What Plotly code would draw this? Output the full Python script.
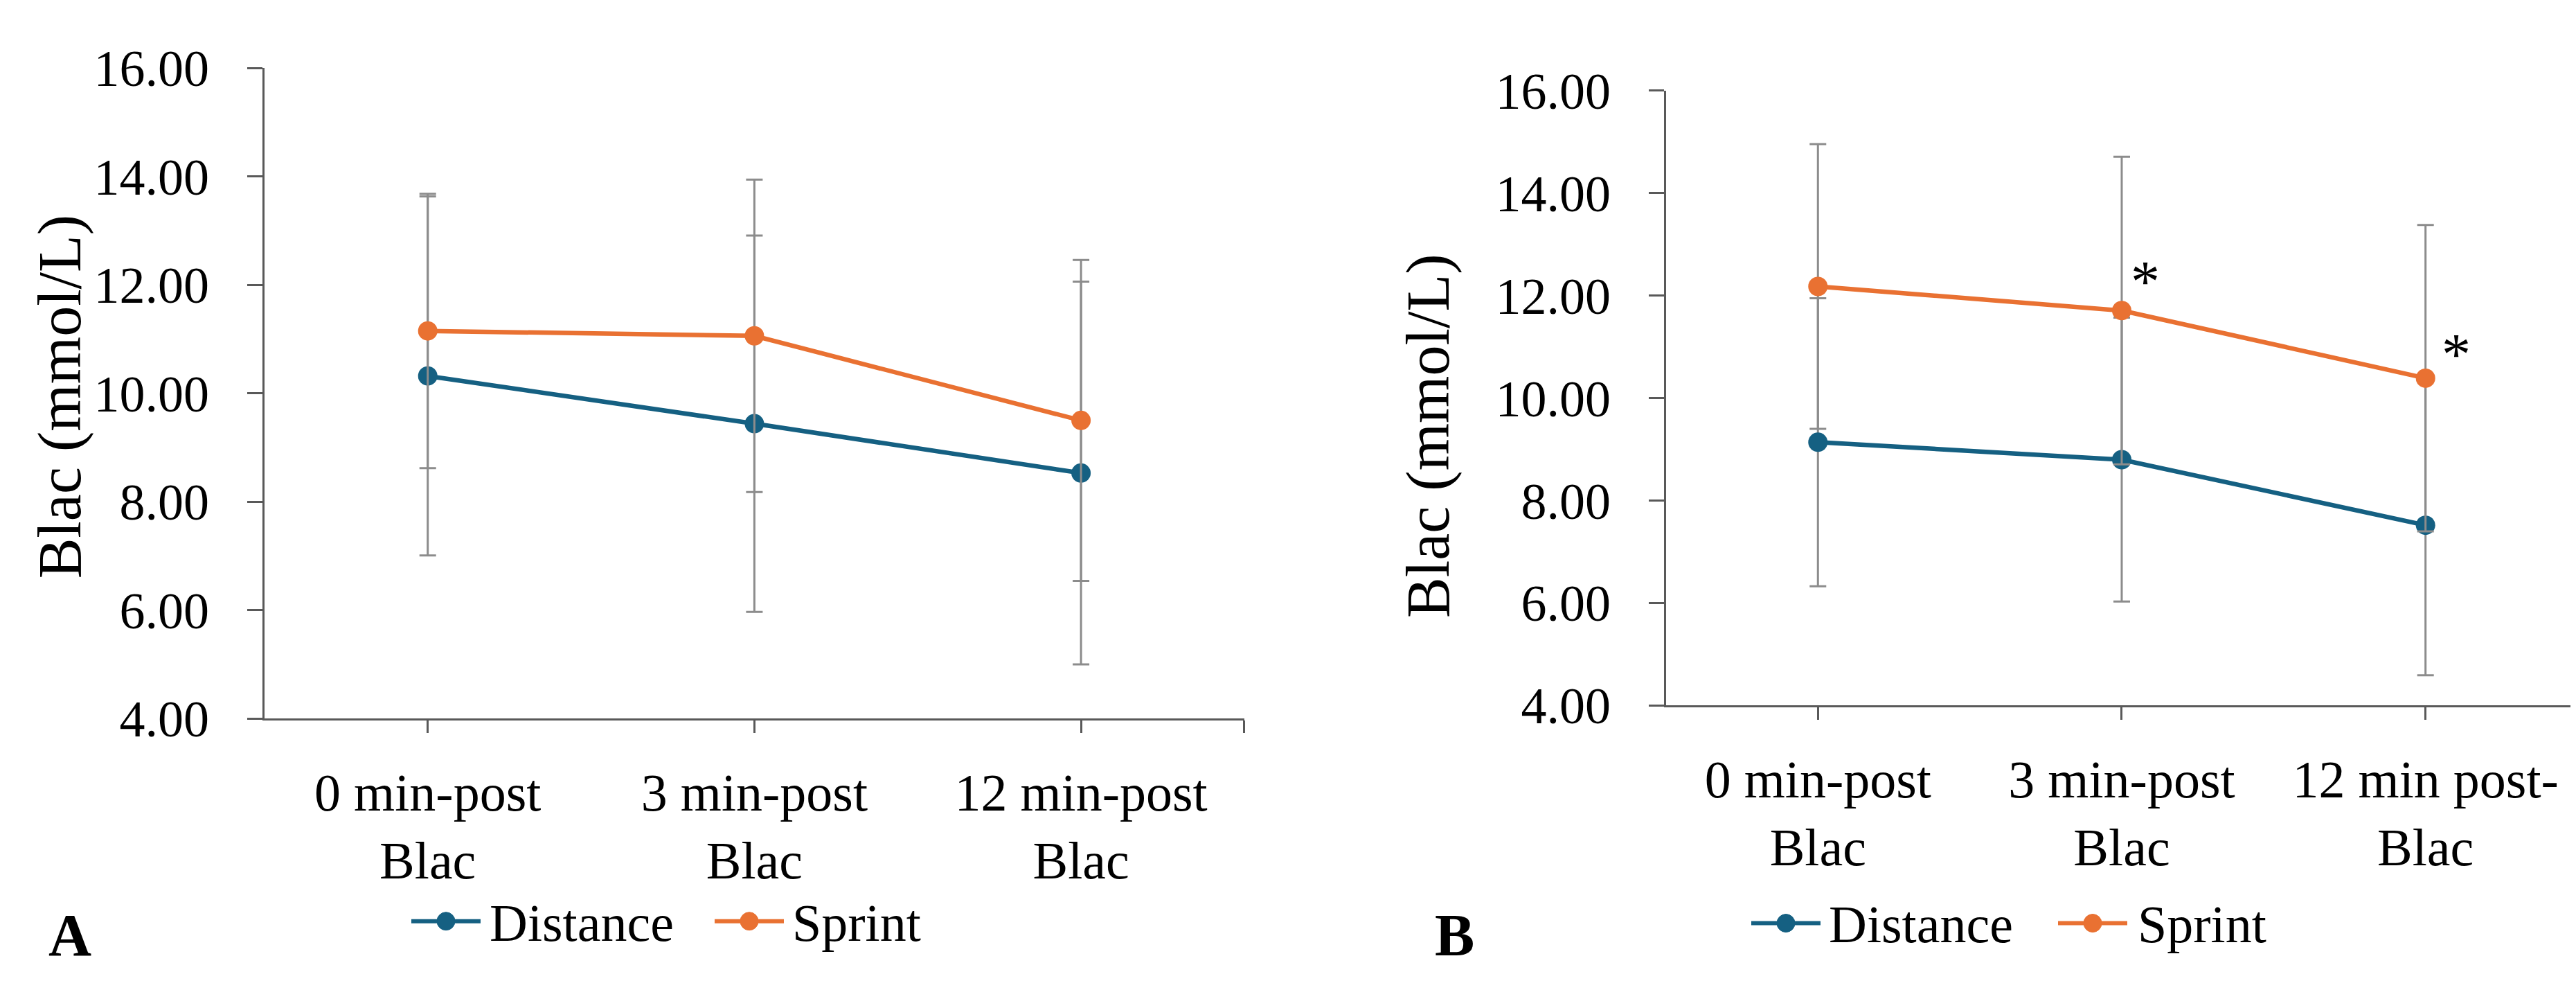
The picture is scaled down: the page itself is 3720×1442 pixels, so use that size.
import plotly.graph_objects as go

# categories (shared by both panels)
categories = ["0 min-post<br>Blac", "3 min-post<br>Blac", "12 min-post<br>Blac"]
categories_b = ["0 min-post<br>Blac", "3 min-post<br>Blac", "12 min post-<br>Blac"]
x_pos = [0, 1, 2]

# panel A: means and SD (mmol/L)
a_distance = [10.32, 9.44, 8.53]
a_distance_sd = [3.31, 3.47, 3.53]
a_sprint = [11.15, 11.06, 9.50]
a_sprint_sd = [2.53, 2.88, 2.96]

# panel B
b_distance = [9.14, 8.80, 7.52]
b_distance_sd = [2.81, 2.77, 2.93]
b_sprint = [12.18, 11.71, 10.39]
b_sprint_sd = [2.78, 3.00, 2.99]

# significance markers in panel B
star_x = [1.078, 2.10]
star_y = [12.27, 10.85]

series_names = ["Distance", "Sprint"]

BLUE = "#156082"
ORANGE = "#E97132"
AXIS = "#595959"
ERR = "#8c8c8c"
FONT = "Liberation Serif"
W, H = 3720, 1442

fig = go.Figure()


def add_series(x, y, sd, name, color, xa, ya):
    fig.add_trace(go.Scatter(
        x=x, y=y, name=name, mode="lines+markers", showlegend=False,
        line=dict(color=color, width=6.5),
        marker=dict(color=color, size=28),
        error_y=dict(type="data", array=sd, visible=True,
                     color=ERR, thickness=3, width=12),
        xaxis=xa, yaxis=ya,
    ))


add_series(x_pos, a_distance, a_distance_sd, "Distance", BLUE, "x", "y")
add_series(x_pos, a_sprint, a_sprint_sd, "Sprint", ORANGE, "x", "y")
add_series(x_pos, b_distance, b_distance_sd, "Distance", BLUE, "x2", "y2")
add_series(x_pos, b_sprint, b_sprint_sd, "Sprint", ORANGE, "x2", "y2")

yax = dict(range=[4, 16], dtick=2, tickformat=".2f", showgrid=False, zeroline=False,
           showline=True, linecolor=AXIS, linewidth=3, ticks="outside",
           ticklen=22, tickwidth=3, tickcolor=AXIS, ticklabelstandoff=40,
           tickfont=dict(family=FONT, size=74, color="black"))
xax = dict(range=[-0.5, 2.5], tickvals=[0, 1, 2, 2.5], showgrid=False, zeroline=False,
           showline=True, linecolor=AXIS, linewidth=3, ticks="outside",
           ticklen=18, tickwidth=3, tickcolor=AXIS, ticklabelstandoff=20,
           tickfont=dict(family=FONT, size=76, color="black"))

fig.update_layout(
    width=W, height=H,
    margin=dict(l=0, r=0, t=0, b=0),
    paper_bgcolor="white", plot_bgcolor="white",
    font=dict(family=FONT, color="black"),
    showlegend=False,
    xaxis=dict(xax, domain=[0.1005, 0.4809], ticktext=categories + [""], anchor="y"),
    yaxis=dict(yax, domain=[0.2725, 0.9632], anchor="x"),
    xaxis2=dict(xax, domain=[0.6446, 0.9984], ticktext=categories_b + [""], anchor="y2"),
    yaxis2=dict(yax, domain=[0.2864, 0.939], anchor="x2"),
)

for i in range(len(star_x)):
    fig.add_annotation(x=star_x[i], y=star_y[i], xref="x2", yref="y2", text="*",
                       showarrow=False, font=dict(family=FONT, size=84, color="black"))

# axis titles and panel letters
fig.add_annotation(x=78 / W, y=1 - 557 / H, xref="paper", yref="paper", text="Blac (mmol/L)",
                   xanchor="center", yanchor="middle", textangle=-90, showarrow=False,
                   font=dict(family=FONT, size=88))
fig.add_annotation(x=2055 / W, y=1 - 617 / H, xref="paper", yref="paper", text="Blac (mmol/L)",
                   xanchor="center", yanchor="middle", textangle=-90, showarrow=False,
                   font=dict(family=FONT, size=88))
fig.add_annotation(x=60 / W, y=1 - 1381 / H, xref="paper", yref="paper", text="<b>A</b>",
                   xanchor="left", yanchor="middle", showarrow=False, font=dict(family=FONT, size=86))
fig.add_annotation(x=2062 / W, y=1 - 1381 / H, xref="paper", yref="paper", text="<b>B</b>",
                   xanchor="left", yanchor="middle", showarrow=False, font=dict(family=FONT, size=86))

# legends below each panel: swatch line + dot + label
legend_rows = [
    # (swatch start px, label start px) for Distance, Sprint, row centre px
    ([586, 1024], [697, 1134], 1359),
    ([2521, 2964], [2631, 3077], 1362),
]
colors = [BLUE, ORANGE]
for starts, labels, ypx in legend_rows:
    yp = 1 - ypx / H
    for k in range(2):
        x0 = starts[k]
        fig.add_shape(type="line", xref="paper", yref="paper",
                      x0=x0 / W, x1=(x0 + 100) / W, y0=yp, y1=yp,
                      line=dict(color=colors[k], width=6))
        fig.add_shape(type="circle", xref="paper", yref="paper",
                      xsizemode="pixel", ysizemode="pixel",
                      xanchor=(x0 + 50) / W, yanchor=yp,
                      x0=-13, x1=13, y0=-13, y1=13,
                      fillcolor=colors[k], line=dict(color=colors[k], width=1))
        fig.add_annotation(x=labels[k] / W, y=1 - (ypx + 2) / H, xref="paper", yref="paper",
                           text=series_names[k], xanchor="left", yanchor="middle",
                           showarrow=False, font=dict(family=FONT, size=76, color="black"))

fig.write_html("out.html")
